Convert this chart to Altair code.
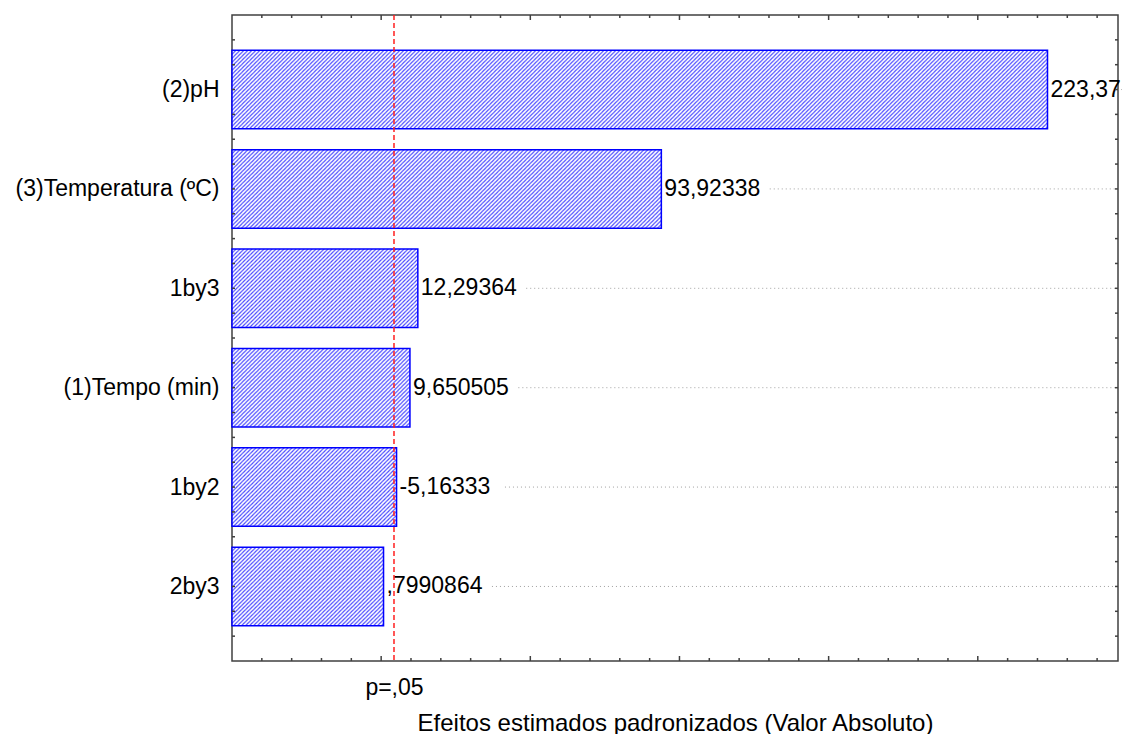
import json
import urllib.parse
import altair as alt
import pandas as pd

# ---------------- data ----------------
names = ["(2)pH", "(3)Temperatura (ºC)", "1by3", "(1)Tempo (min)", "1by2", "2by3"]
effects = [223.37, 93.92338, 12.29364, 9.650505, -5.16333, 0.7990864]
value_labels = ["223,37", "93,92338", "12,29364", "9,650505", "-5,16333", ",7990864"]
p_crit = 4.303
p_label = "p=,05"
x_title = "Efeitos estimados padronizados (Valor Absoluto)"
x_domain = [-50, 247]
y_domain = [0.25, 6.75]
x_ticks = list(range(-40, 247, 10))
y_ticks = [0.5 + 0.25 * i for i in range(25)]

# ---------------- layout ----------------
W, H = 886, 646
FONT = "Liberation Sans"
PX_PER_UNIT = W / (x_domain[1] - x_domain[0])

df = pd.DataFrame({
    "name": names,
    "effect": effects,
    "label": value_labels,
})
df["pos"] = range(1, len(names) + 1)
df["abs"] = df["effect"].abs()
df["base"] = x_domain[0]
df["lo"] = df["pos"] - 0.395
df["hi"] = df["pos"] + 0.395
df["gx"] = df["abs"] + (6 + df["label"].str.len() * 12.8) / PX_PER_UNIT

xt = pd.DataFrame({"t": x_ticks})
yt = pd.DataFrame({"t": y_ticks})

xs = alt.Scale(domain=x_domain, nice=False, zero=False)
ys = alt.Scale(domain=y_domain, nice=False, zero=False, reverse=True)

hatch_svg = (
    "<svg xmlns='http://www.w3.org/2000/svg' width='100%' height='100%'>"
    "<defs><pattern id='h' patternUnits='userSpaceOnUse' width='4' height='4'>"
    "<path d='M-1,1 L1,-1 M0,4 L4,0 M3,5 L5,3' stroke='#4040ff' stroke-width='1.1'/>"
    "</pattern></defs>"
    "<rect width='100%' height='100%' fill='white'/>"
    "<rect width='100%' height='100%' fill='url(#h)'/></svg>"
)
hatch_uri = "data:image/svg+xml;charset=utf-8," + urllib.parse.quote(hatch_svg)

label_expr = json.dumps(names, ensure_ascii=False) + "[datum.value - 1]"

x_axis = alt.Axis(
    values=[p_crit], labelExpr=f"'{p_label}'", tickSize=0, domain=False, grid=False,
    labelFontSize=23, labelPadding=15, labelColor="black", labelFont=FONT,
    title=x_title, titleFontSize=24, titleFontWeight="normal", titleColor="black",
    titleFont=FONT, titlePadding=12,
)
y_axis = alt.Axis(
    values=list(range(1, len(names) + 1)), labelExpr=label_expr, tickSize=0,
    domain=False, grid=False, labelFontSize=23, labelPadding=13, labelColor="black",
    labelFont=FONT, title=None, labelFlush=False, labelOverlap=False, labelLimit=400,
)

def X(field):
    return alt.X(field, scale=xs, axis=x_axis, title=x_title)

def Y(field):
    return alt.Y(field, scale=ys, axis=y_axis, title=None)

base = alt.Chart(df)

grid = base.mark_rule(color="#a0a0a0", strokeDash=[1, 3], strokeWidth=1).encode(
    x=X("gx:Q"), x2=alt.value(W), y=Y("pos:Q"),
)

fallback = base.mark_rect(fill="#a8a8ff").encode(
    x=X("base:Q"), x2="abs:Q", y=Y("lo:Q"), y2="hi:Q",
)

hatch = base.mark_image(aspect=False).encode(
    x=X("base:Q"), x2="abs:Q", y=Y("lo:Q"), y2="hi:Q",
    url=alt.value(hatch_uri),
)

outline = base.mark_rect(fill="white", fillOpacity=0, stroke="#0000ff", strokeWidth=1.5).encode(
    x=X("base:Q"), x2="abs:Q", y=Y("lo:Q"), y2="hi:Q",
)

texts = base.mark_text(align="left", baseline="middle", dx=3, fontSize=23, font=FONT, color="black").encode(
    x=X("abs:Q"), y=Y("pos:Q"), text="label:N",
)

crit = alt.Chart(pd.DataFrame({"c": [p_crit]})).mark_rule(
    color="#ff2020", strokeDash=[5, 3], strokeWidth=1.5
).encode(
    x=X("c:Q"), y=alt.value(0), y2=alt.value(H),
)

def xtick(y0, y1, major):
    ch = alt.Chart(xt)
    if major:
        ch = ch.transform_filter("datum.t % 50 == 0")
    else:
        ch = ch.transform_filter("datum.t % 50 != 0")
    return ch.mark_rule(color="#404040", strokeWidth=1.5).encode(
        x=X("t:Q"), y=alt.value(y0), y2=alt.value(y1),
    )

def ytick(x0, x1):
    return alt.Chart(yt).mark_rule(color="#404040", strokeWidth=1.5).encode(
        y=Y("t:Q"), x=alt.value(x0), x2=alt.value(x1),
    )

chart = alt.layer(
    grid, fallback, hatch, outline, texts, crit,
    xtick(H, H - 3, False), xtick(H, H - 5, True),
    xtick(0, 3, False), xtick(0, 5, True),
    ytick(0, 3), ytick(W, W - 3),
).properties(
    width=W, height=H,
    autosize=alt.AutoSizeParams(type="none"),
    padding={"left": 224, "top": 7, "right": 4, "bottom": 73},
    background="white",
).configure_view(
    stroke="#404040", strokeWidth=1.5,
)

chart.save("out.html", embed_options={"renderer": "svg", "actions": False})
